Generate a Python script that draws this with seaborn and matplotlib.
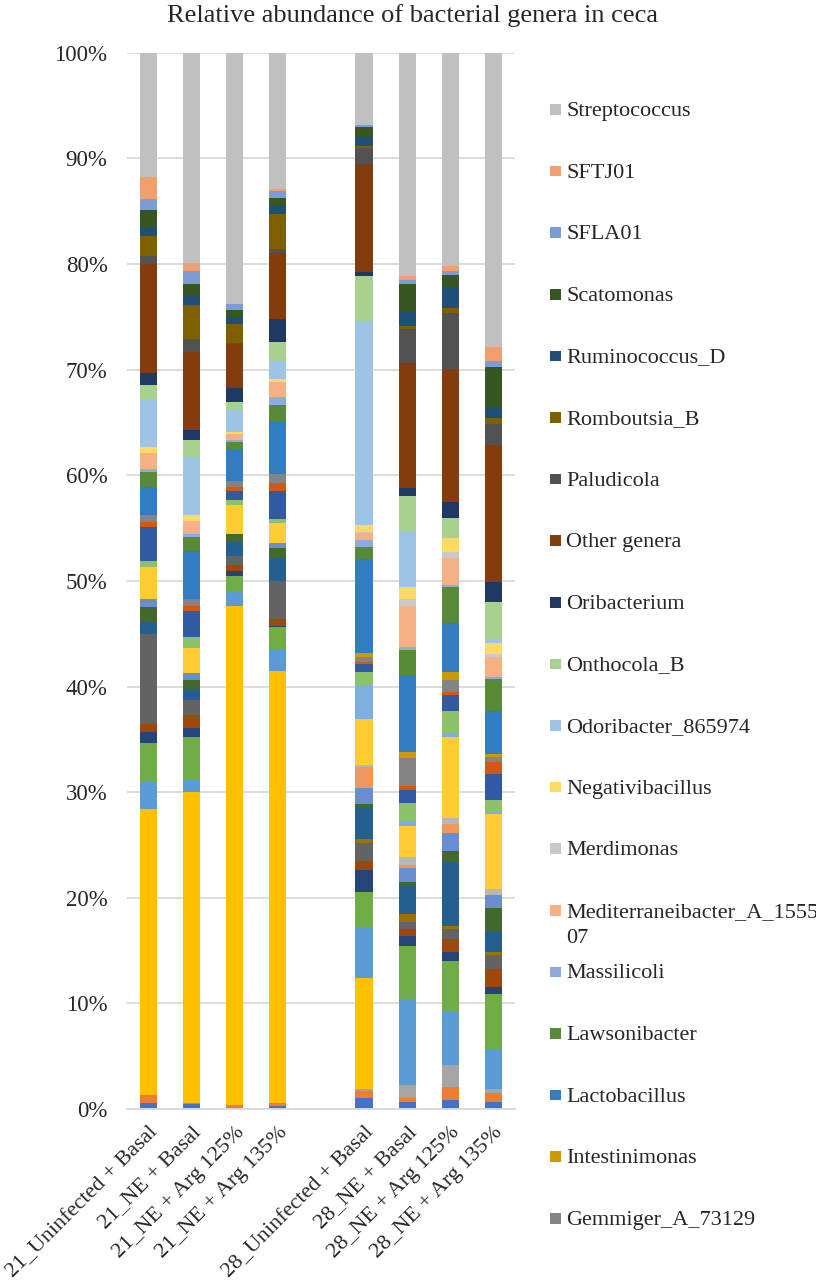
import matplotlib
matplotlib.use("Agg")
import matplotlib.pyplot as plt
import seaborn as sns
import pandas as pd
import numpy as np
from matplotlib.patches import Rectangle
from matplotlib.ticker import FuncFormatter

groups = ["21_Uninfected + Basal", "21_NE + Basal", "21_NE + Arg 125%", "21_NE + Arg 135%",
          "28_Uninfected + Basal", "28_NE + Basal", "28_NE + Arg 125%", "28_NE + Arg 135%"]

# lowest 20 genera (cut off from the legend in the original)
low_01 = [0.55, 0.44, 0.13, 0.28, 1.07, 0.69, 0.85, 0.69]
low_02 = [0.78, 0.10, 0.25, 0.32, 0.63, 0.38, 1.20, 0.79]
low_03 = [0.00, 0.00, 0.00, 0.00, 0.19, 1.17, 2.12, 0.41]
low_04 = [27.05, 29.48, 47.28, 40.88, 10.48, 0.00, 0.00, 0.00]
low_05 = [2.56, 1.20, 1.39, 2.05, 4.83, 8.15, 5.02, 3.76]
low_06 = [3.69, 3.98, 1.42, 2.08, 3.35, 5.08, 4.83, 5.21]
low_07 = [1.07, 0.88, 0.45, 0.16, 2.08, 0.94, 0.88, 0.72]
low_08 = [0.76, 1.23, 0.63, 0.60, 0.88, 0.61, 1.20, 1.71]
low_09 = [8.49, 1.42, 0.82, 3.66, 1.71, 0.72, 0.92, 1.26]
low_10 = [0.00, 0.00, 0.00, 0.00, 0.32, 0.70, 0.34, 0.29]
low_11 = [1.14, 1.01, 1.35, 2.18, 3.03, 2.77, 6.06, 1.95]
low_12 = [1.42, 0.88, 0.70, 0.94, 0.31, 0.26, 1.01, 2.21]
low_13 = [0.82, 0.64, 0.00, 0.42, 1.55, 1.32, 1.68, 1.27]
low_14 = [0.00, 0.00, 0.00, 0.00, 1.99, 0.29, 0.88, 0.00]
low_15 = [0.00, 0.00, 0.00, 0.00, 0.16, 0.81, 0.57, 0.53]
low_16 = [3.02, 2.42, 2.78, 1.95, 4.32, 2.91, 7.70, 7.14]
low_17 = [0.00, 0.00, 0.00, 0.00, 3.25, 0.35, 0.22, 0.22]
low_18 = [0.54, 1.05, 0.47, 0.32, 1.26, 1.85, 2.21, 1.10]
low_19 = [3.25, 2.43, 0.88, 2.71, 0.70, 1.21, 1.51, 2.46]
low_20 = [0.48, 0.50, 0.38, 0.76, 0.22, 0.41, 0.32, 1.17]

gemmiger = [0.63, 0.67, 0.54, 0.82, 0.44, 2.65, 1.11, 0.41]
intestinimonas = [0.00, 0.00, 0.00, 0.00, 0.38, 0.54, 0.78, 0.32]
lactobacillus = [2.68, 4.51, 3.00, 5.02, 8.96, 7.26, 4.59, 4.07]
lawsonibacter = [1.42, 1.36, 0.63, 1.49, 1.08, 2.40, 3.40, 3.06]
massilicoli = [0.22, 0.25, 0.19, 0.81, 0.69, 0.31, 0.22, 0.13]
mediterraneibacter = [1.52, 1.26, 0.60, 1.42, 0.64, 3.85, 2.53, 1.89]
merdimonas = [0.00, 0.00, 0.00, 0.00, 0.15, 0.64, 0.54, 0.32]
negativibacillus = [0.57, 0.49, 0.16, 0.23, 0.66, 1.13, 1.41, 1.07]
odoribacter = [4.48, 5.51, 2.08, 1.73, 19.23, 5.24, 0.00, 0.32]
onthocola = [1.39, 1.58, 0.76, 1.74, 4.32, 3.35, 1.89, 3.56]
oribacterium = [1.14, 1.01, 1.36, 2.21, 0.35, 0.79, 1.46, 1.90]
other_genera = [10.35, 7.41, 4.19, 6.25, 10.23, 11.89, 12.60, 12.91]
paludicola = [0.76, 1.18, 0.12, 0.38, 1.51, 3.16, 5.30, 2.02]
romboutsia = [1.83, 3.18, 1.77, 3.34, 0.16, 0.32, 0.47, 0.54]
ruminococcus = [0.88, 0.92, 0.63, 0.70, 0.89, 1.29, 1.90, 1.00]
scatomonas = [1.64, 1.13, 0.69, 0.82, 0.91, 2.65, 1.23, 3.88]
sfla01 = [1.01, 1.26, 0.54, 0.63, 0.25, 0.35, 0.34, 0.57]
sftj01 = [2.09, 0.70, 0.00, 0.19, 0.00, 0.38, 0.48, 1.27]
streptococcus = [11.77, 19.92, 23.80, 12.91, 6.82, 21.18, 20.23, 27.87]

named = ["Gemmiger_A_73129", "Intestinimonas", "Lactobacillus", "Lawsonibacter", "Massilicoli",
         "Mediterraneibacter_A_155507", "Merdimonas", "Negativibacillus", "Odoribacter_865974",
         "Onthocola_B", "Oribacterium", "Other genera", "Paludicola", "Romboutsia_B",
         "Ruminococcus_D", "Scatomonas", "SFLA01", "SFTJ01", "Streptococcus"]

series = [low_01, low_02, low_03, low_04, low_05, low_06, low_07, low_08, low_09, low_10,
          low_11, low_12, low_13, low_14, low_15, low_16, low_17, low_18, low_19, low_20,
          gemmiger, intestinimonas, lactobacillus, lawsonibacter, massilicoli,
          mediterraneibacter, merdimonas, negativibacillus, odoribacter, onthocola,
          oribacterium, other_genera, paludicola, romboutsia, ruminococcus, scatomonas,
          sfla01, sftj01, streptococcus]
names = ["low_%02d" % (i + 1) for i in range(20)] + named

# excel office palette, cycled with shade/tint variations
colors = ["#4472C4", "#ED7D31", "#A5A5A5", "#FFC000", "#5B9BD5", "#70AD47",
          "#264478", "#9E480E", "#636363", "#997300", "#255E91", "#43682B",
          "#698ED0", "#F1975A", "#B7B7B7", "#FFCD33", "#7CAFDD", "#8CC168",
          "#325AA0", "#D25912", "#848484", "#CC9900", "#327DC2", "#598A38",
          "#8FAADC", "#F4B183", "#C9C9C9", "#FFD966", "#9DC3E6", "#A9D18E",
          "#203864", "#843C0C", "#525252", "#7F6000", "#1F4E79", "#375623",
          "#7C9CD6", "#F29F6E", "#C0C0C0"]

# blank slot between day 21 and day 28
order = groups[:4] + [" "] + groups[4:]

df = pd.DataFrame({n: s for n, s in zip(names, series)}, index=groups)
df.loc[" "] = 0.0
df = df.loc[order]
cum = df.cumsum(axis=1)

sns.set_style("white")
plt.rcParams["font.family"] = ["Liberation Serif", "DejaVu Serif"]

fig = plt.figure(figsize=(8.16, 12.82), dpi=100)
ax = fig.add_axes([0.1556, 0.1349, 0.4755, 0.8240])

# stacked bars: draw cumulative totals from the top genus down
for name, col in zip(names[::-1], colors[::-1]):
    sns.barplot(x=order, y=cum[name].values, order=order, color=col, width=0.4,
                errorbar=None, linewidth=0, saturation=1, ax=ax)

ax.set_ylim(0, 100)
ax.set_xlim(-0.5, 8.5)
ax.set_yticks(np.arange(0, 101, 10))
ax.yaxis.set_major_formatter(FuncFormatter(lambda v, p: "%d%%" % v))
ax.grid(axis="y", color="#D9D9D9", linewidth=1.3)
ax.set_axisbelow(True)
for s in ["top", "right", "left"]:
    ax.spines[s].set_visible(False)
ax.spines["bottom"].set_color("#D9D9D9")
ax.spines["bottom"].set_linewidth(1.3)
ax.set_xlabel("")
ax.set_ylabel("")
ax.tick_params(axis="y", length=0, labelsize=16.5, pad=14)
ax.tick_params(axis="x", length=0, labelsize=16, pad=10)
for lab in ax.get_xticklabels():
    lab.set_rotation(45)
    lab.set_ha("right")
    lab.set_va("top")
    lab.set_rotation_mode("anchor")

fig.text(0.505, 1 - 16 / 1282, "Relative abundance of bacterial genera in ceca",
         ha="center", va="center", fontsize=19)

# legend, top to bottom (only the named genera were shown)
W, H = 816, 1282
for i, (name, col) in enumerate(zip(named[::-1], colors[::-1])):
    yc = 109.5 + i * 61.6
    fig.add_artist(Rectangle((550 / W, 1 - (yc + 5.3) / H), 10.6 / W, 10.6 / H,
                             transform=fig.transFigure, color=col, lw=0))
    if name.startswith("Mediterraneibacter"):
        fig.text(566 / W, 1 - (yc + 6.5) / H, "Mediterraneibacter_A_1555",
                 ha="left", va="baseline", fontsize=16)
        fig.text(566 / W, 1 - (yc + 32.5) / H, "07", ha="left", va="baseline", fontsize=16)
    else:
        fig.text(566 / W, 1 - (yc + 6.5) / H, name, ha="left", va="baseline", fontsize=16)

fig.savefig("out.png", dpi=100)
